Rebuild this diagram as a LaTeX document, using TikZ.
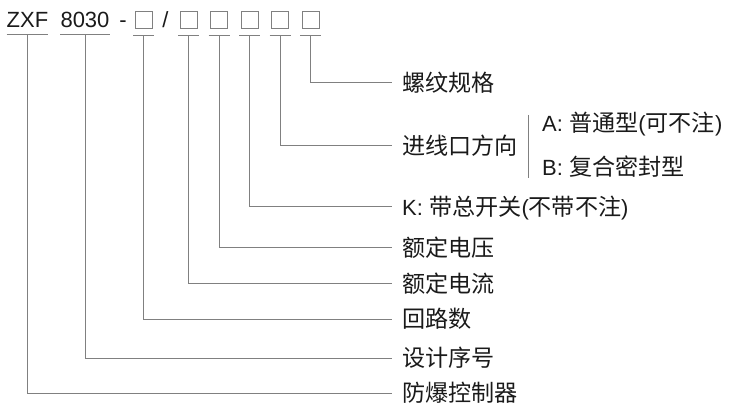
\documentclass[tikz,border=0pt]{standalone}
\usepackage{fontspec}
\setmainfont{Liberation Sans}
\newfontfamily\zhfont[Scale=1.05]{Noto Sans CJK SC}
\newcommand{\zhtxt}[1]{{\zhfont #1}}
\usepackage{tikz}
\usetikzlibrary{positioning}
\definecolor{cink}{HTML}{1A1A1A}
\definecolor{cgrey}{HTML}{808080}
\tikzset{
  clead/.style={draw=cgrey, line width=1pt},
  cseg/.style={anchor=south, inner xsep=0pt, inner ysep=0pt, text height=17pt,
               text depth=7pt, text=cink, font=\fontsize{22}{26}\selectfont},
  cbox/.style={draw=cgrey, line width=1pt, minimum size=17pt, inner sep=0pt},
  clbl/.style={anchor=west, inner xsep=10pt, inner ysep=0pt, text height=19.6pt,
               text depth=2.6pt, text=cink, font=\fontsize{22}{26}\selectfont},
}

\begin{document}
\begin{tikzpicture}[x=1pt,y=-1pt]
  \useasboundingbox (0,0) rectangle (730,419);

  %型号代码
  \node[cseg, minimum width=41pt] (zxf) at (27.5,35) {ZXF};
  \node[cseg, minimum width=48pt] (ser) at (85,35) {8030};
  \node[cseg] (dash) at (123,35) {-};
  \node[cseg] (slash) at (165.5,35) {/};
  \node[cbox] (b0) at (143.5,20.5) {};
  \foreach \i in {1,...,5}{
    \node[cbox] (b\i) at ({158+30.5*\i},20.5) {};
  }
  \draw[clead] (zxf.south west) -- (zxf.south east);
  \draw[clead] (ser.south west) -- (ser.south east);
  \foreach \i in {0,...,5}{
    \coordinate (u\i) at ([yshift=-6pt]b\i.south);
    \draw[clead] ([xshift=-1.5pt,yshift=-6pt]b\i.south west)
              -- ([xshift=1.5pt,yshift=-6pt]b\i.south east);
  }

  % 说明
  \node[clbl] (thread) at (392,83)  {\zhtxt{螺纹规格}};
  \node[clbl] (inlet)  at (392,146) {\zhtxt{进线口方向}};
  \node[clbl] (switch) at (392,207) {K: \zhtxt{带总开关}(\zhtxt{不带不注})};
  \node[clbl] (volt)   at (392,248) {\zhtxt{额定电压}};
  \node[clbl] (amp)    at (392,284) {\zhtxt{额定电流}};
  \node[clbl] (loop)   at (392,319) {\zhtxt{回路数}};
  \node[clbl] (seq)    at (392,358) {\zhtxt{设计序号}};
  \node[clbl] (ctrl)   at (392,393) {\zhtxt{防爆控制器}};

  \coordinate (brt) at (528,115);
  \coordinate (brb) at (528,178);
  \draw[clead] (brt) -- (brb);
  \node[clbl] (typa) at (532,123) {A: \zhtxt{普通型}(\zhtxt{可不注})};
  \node[clbl] (typb) at (532,167) {B: \zhtxt{复合密封型}};

  \draw[clead] (zxf.south) |- (ctrl.west);
  \draw[clead] (ser.south) |- (seq.west);
  \draw[clead] (u0) |- (loop.west);
  \draw[clead] (u1) |- (amp.west);
  \draw[clead] (u2) |- (volt.west);
  \draw[clead] (u3) |- (switch.west);
  \draw[clead] (u4) |- (inlet.west);
  \draw[clead] (u5) |- (thread.west);

\end{tikzpicture}
\end{document}
